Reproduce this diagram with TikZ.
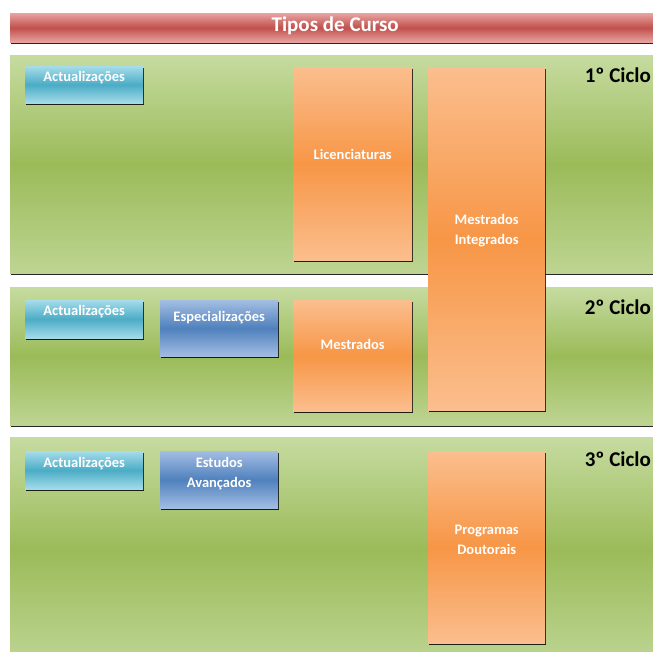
\documentclass[tikz,border=0pt]{standalone}
\usepackage{fontspec}
\setmainfont{Carlito}
\usetikzlibrary{positioning, shadows}
\definecolor{greendark}{HTML}{9BBB59}
\definecolor{greenlight}{HTML}{C6DBA0}
\definecolor{orangedark}{HTML}{F79646}
\definecolor{orangelight}{HTML}{FBBE8E}
\definecolor{cyandark}{HTML}{4BACC6}
\definecolor{cyanlight}{HTML}{A5DCEA}
\definecolor{bluedark}{HTML}{4F81BD}
\definecolor{bluelight}{HTML}{A3BDE3}
\definecolor{reddark}{HTML}{C0504D}
\definecolor{redlight}{HTML}{E8A3A1}
\tikzset{
edge/.style={drop shadow={shadow xshift=0.5pt, shadow yshift=-2pt, opacity=0.85, fill=black}},
box/.style={anchor=north west, inner sep=0pt, edge, align=center, text=white,
  font=\bfseries\fontsize{14.5}{20}\selectfont, text height=8pt},
band/.style={box, minimum width=660pt, top color=greenlight, bottom color=greenlight!80!greendark, middle color=greendark},
header/.style={box, minimum width=660pt, minimum height=29pt, top color=redlight, bottom color=redlight, middle color=reddark,
  font=\bfseries\fontsize{21}{24}\selectfont, text height=12pt, text depth=4pt},
update/.style={box, minimum width=118pt, top color=cyanlight, bottom color=cyanlight, middle color=cyandark},
special/.style={box, minimum width=118pt, top color=bluelight, bottom color=bluelight, middle color=bluedark},
course/.style={box, top color=orangelight, bottom color=orangelight, middle color=orangedark},
cycle/.style={anchor=east, font=\bfseries\fontsize{21}{24}\selectfont, text=black, inner sep=0pt},
}

\begin{document}
\begin{tikzpicture}[x=1pt, y=-1pt]
    \fill[white] (0,0) rectangle (653,651);
    \useasboundingbox (0,0) rectangle (653,651);
    \clip (0,0) rectangle (653,651);

    % title and bands
    \node[header] (title) at (10,13) {\hspace*{-10pt}Tipos de Curso};
    \node[band, minimum height=218pt] (band1) at (10,55) { };
    \node[band, minimum height=138pt] (band2) at (10,287) { };
    \node[band, minimum height=225pt] (band3) at (10,437) { };

    % cycle labels
    \node[cycle] (cycle1) at (651,75) {1º Ciclo};
    \node[cycle] (cycle2) at (651,307) {2º Ciclo};
    \node[cycle] (cycle3) at (651,459) {3º Ciclo};

    % 1st cycle
    \node[update, minimum height=37pt, text depth=15pt] (upd1) at (25,66) {Actualizações};
    \node[course, minimum width=119pt, minimum height=193pt, text depth=17pt] (lic) at (293,67) {Licenciaturas};
    \node[course, minimum width=117pt, minimum height=343pt, text height=28pt, text depth=17pt] (mint) at (428,67) {Mestrados\\Integrados};

    % 2nd cycle
    \node[update, minimum height=38pt, text depth=16pt] (upd2) at (25,300) {Actualizações};
    \node[special, minimum height=56pt, text depth=22pt] (spec) at (160,300) {Especializações};
    \node[course, minimum width=119pt, minimum height=111pt, text depth=21pt] (mest) at (293,300) {Mestrados};

    % 3rd cycle
    \node[update, minimum height=38pt, text depth=14pt] (upd3) at (25,451) {Actualizações};
    \node[special, minimum height=57pt, text height=28pt, text depth=13pt] (adv) at (160,451) {Estudos\\Avançados};
    \node[course, minimum width=117pt, minimum height=192pt, text height=28pt, text depth=14pt] (doct) at (428,451) {Programas\\Doutorais};
\end{tikzpicture}
\end{document}
